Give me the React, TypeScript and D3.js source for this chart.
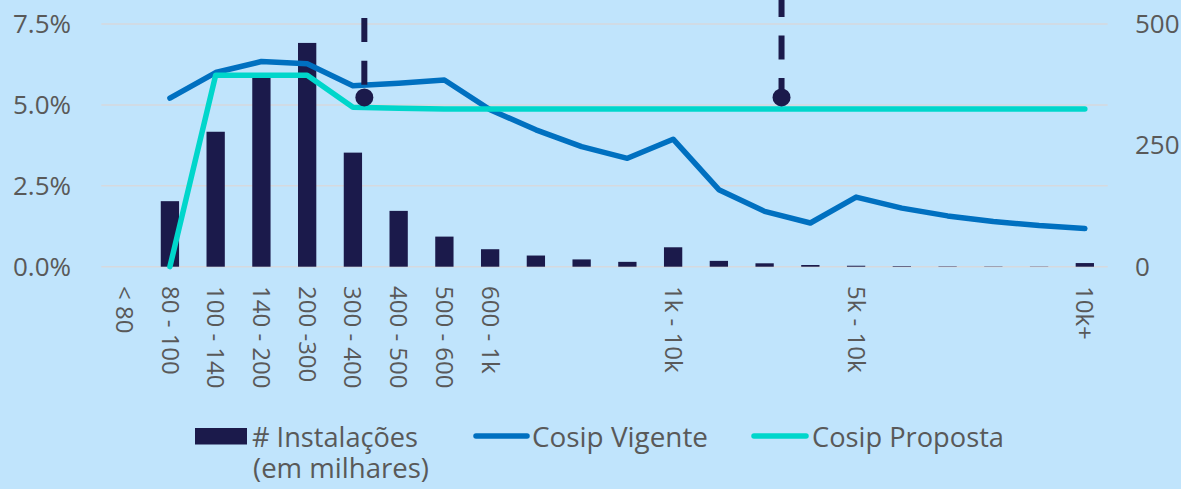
import React from "react";
import * as d3 from "d3";

// faixas de consumo (kWh) - so algumas tem rotulo no eixo
const categories = d3.range(22);
const tickLabels = [
  "< 80", "80 - 100", "100 - 140", "140 - 200", "200 -300", "300 - 400",
  "400 - 500", "500 - 600", "600 - 1k", "", "", "", "1k - 10k", "", "", "",
  "5k - 10k", "", "", "", "", "10k+",
];

// # instalacoes (em milhares) - eixo direito
const instalacoes = [0, 135, 278, 395, 461, 235, 115, 62, 36, 23, 15, 10, 40, 12, 7, 3.5, 2, 1.2, 0.8, 0.6, 0.5, 7.5];

// aliquotas - eixo esquerdo
const cosipVigente = [
  null, 0.0521, 0.0600, 0.0634, 0.0627, 0.0559, 0.0567, 0.0577, 0.0485, 0.0423, 0.0371,
  0.0335, 0.0394, 0.0238, 0.0171, 0.0135, 0.0215, 0.0181, 0.0157, 0.0140, 0.0127, 0.0118,
];
const cosipProposta = [
  null, 0.0, 0.0592, 0.0592, 0.0592, 0.0493, 0.0490, 0.0487, 0.0487, 0.0487, 0.0487,
  0.0487, 0.0487, 0.0487, 0.0487, 0.0487, 0.0487, 0.0487, 0.0487, 0.0487, 0.0487, 0.0487,
];

const leftTicks = [0, 0.025, 0.05, 0.075];
const rightTicks = [0, 250, 500];

// marcadores tracejados (posicao em unidades de categoria)
const markerPos = [5.25, 14.37];
const markerValue = 0.0523;
const markerDashOffset = [10.2, 35.4];

const W = 1181;
const H = 489;
const BG = "#C0E4FC";
const NAVY = "#1B1A4B";
const BLUE = "#0070C0";
const TEAL = "#00D6CB";
const GRID = "#D6D9DE";
const TXT = "#595959";

const App = () => {
  const plotLeft = 101.3;
  const plotRight = 1107.7;
  const plotBottom = 266.7;
  const plotTop = 24;

  const x = d3
    .scaleBand<number>()
    .domain(categories)
    .range([plotLeft, plotRight])
    .paddingInner(0.6)
    .paddingOuter(0.3);
  const step = x.step();
  const bw = x.bandwidth();
  const cx = (i: number) => (x(i) as number) + bw / 2;

  const yLeft = d3.scaleLinear().domain([0, 0.075]).range([plotBottom, plotTop]);
  const yRight = d3.scaleLinear().domain([0, 500]).range([plotBottom, plotTop]);

  const line = d3
    .line<number | null>()
    .defined((d) => d !== null)
    .x((_, i) => cx(i))
    .y((d) => yLeft(d as number));

  const markerX = (p: number) => cx(0) + p * step;

  const axisFont = "'Open Sans', 'Noto Sans', sans-serif";
  const legendFont = "'Open Sans', 'Noto Sans', sans-serif";

  return (
    <svg
      width={W}
      height={H}
      style={{ position: "absolute", left: 0, top: 0, background: BG }}
    >
      <rect x={0} y={0} width={W} height={H} fill={BG} />

      {/* grade */}
      {leftTicks.map((t) => (
        <line
          key={"g" + t}
          x1={plotLeft}
          x2={plotRight}
          y1={yLeft(t)}
          y2={yLeft(t)}
          stroke={GRID}
          strokeWidth={1.5}
        />
      ))}

      {/* eixo esquerdo */}
      {leftTicks.map((t) => (
        <text
          key={"l" + t}
          x={71}
          y={yLeft(t)}
          dy="0.35em"
          textAnchor="end"
          fontFamily={axisFont}
          fontSize={26}
          fill={TXT}
        >
          {(t * 100).toFixed(1) + "%"}
        </text>
      ))}

      {/* eixo direito */}
      {rightTicks.map((t) => (
        <text
          key={"r" + t}
          x={1135}
          y={yRight(t)}
          dy="0.35em"
          textAnchor="start"
          fontFamily={axisFont}
          fontSize={26}
          fill={TXT}
        >
          {t}
        </text>
      ))}

      {/* rotulos x */}
      {categories.map((c, i) =>
        tickLabels[i] ? (
          <text
            key={"x" + c}
            transform={`translate(${cx(i)},286) rotate(90)`}
            dy="0.35em"
            textAnchor="start"
            fontFamily={axisFont}
            fontSize={24}
            fill={TXT}
          >
            {tickLabels[i]}
          </text>
        ) : null
      )}

      {/* barras */}
      {instalacoes.map((v, i) =>
        v > 0 ? (
          <rect
            key={"b" + i}
            x={x(i)}
            y={yRight(v)}
            width={bw}
            height={plotBottom - yRight(v)}
            fill={NAVY}
          />
        ) : null
      )}

      {/* linhas */}
      <path
        d={line(cosipVigente) || ""}
        fill="none"
        stroke={BLUE}
        strokeWidth={5.5}
        strokeLinecap="round"
        strokeLinejoin="round"
      />
      <path
        d={line(cosipProposta) || ""}
        fill="none"
        stroke={TEAL}
        strokeWidth={5.5}
        strokeLinecap="round"
        strokeLinejoin="round"
      />

      {/* marcadores */}
      {markerPos.map((p, i) => (
        <g key={"m" + i}>
          <line
            x1={markerX(p)}
            x2={markerX(p)}
            y1={yLeft(0.1)}
            y2={yLeft(markerValue)}
            stroke={NAVY}
            strokeWidth={6}
            strokeDasharray="24 18.6"
            strokeDashoffset={markerDashOffset[i]}
          />
          <circle cx={markerX(p)} cy={yLeft(markerValue)} r={9} fill={NAVY} />
        </g>
      ))}

      {/* legenda */}
      <rect x={195} y={428} width={52} height={16.5} fill={NAVY} />
      <text x={252} y={447} fontFamily={legendFont} fontSize={27} fill={TXT} textLength={166} lengthAdjust="spacingAndGlyphs">
        # Instalações
      </text>
      <text x={253} y={478} fontFamily={legendFont} fontSize={27} fill={TXT} textLength={176} lengthAdjust="spacingAndGlyphs">
        (em milhares)
      </text>
      <line x1={476} x2={527} y1={436} y2={436} stroke={BLUE} strokeWidth={5.5} strokeLinecap="round" />
      <text x={532} y={447} fontFamily={legendFont} fontSize={27} fill={TXT} textLength={176} lengthAdjust="spacingAndGlyphs">
        Cosip Vigente
      </text>
      <line x1={754} x2={806} y1={436} y2={436} stroke={TEAL} strokeWidth={5.5} strokeLinecap="round" />
      <text x={812} y={447} fontFamily={legendFont} fontSize={27} fill={TXT} textLength={192} lengthAdjust="spacingAndGlyphs">
        Cosip Proposta
      </text>
    </svg>
  );
};

export default App;
